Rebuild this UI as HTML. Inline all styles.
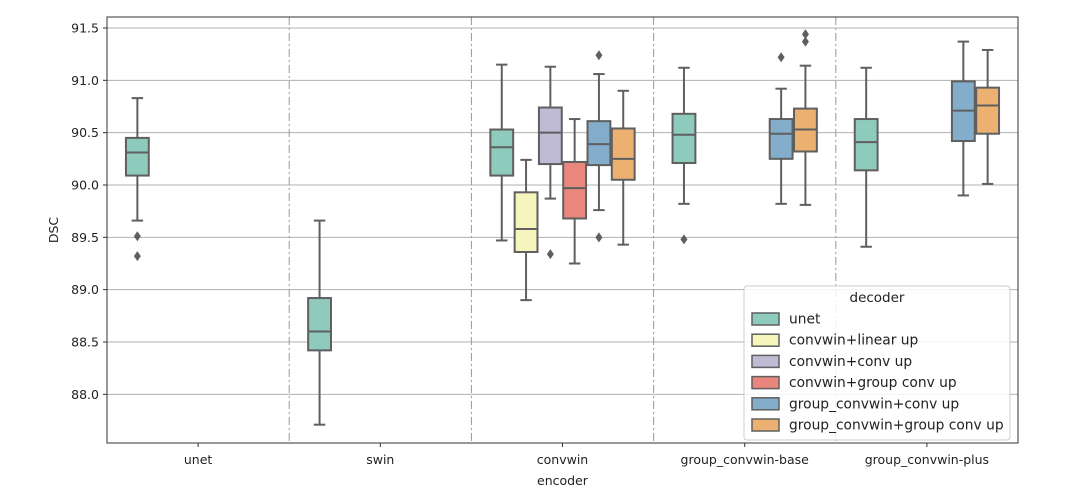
<!DOCTYPE html>
<html><head><meta charset="utf-8"><style>
body{margin:0;background:#fff;font-family:"DejaVu Sans","Liberation Sans",sans-serif}
svg text{font-family:"DejaVu Sans","Liberation Sans",sans-serif;fill:#222}
</style></head><body>
<svg id="chart" width="1080" height="495" xmlns="http://www.w3.org/2000/svg"></svg>
<script>
const encoders=["unet","swin","convwin","group_convwin-base","group_convwin-plus"];
const decoders=["unet","convwin+linear up","convwin+conv up","convwin+group conv up","group_convwin+conv up","group_convwin+group conv up"];
const colors=["#8fcbbd","#f6f5bb","#bfbbd5","#e9877e","#84adcb","#ecb170"];
const yTicks=[88.0,88.5,89.0,89.5,90.0,90.5,91.0,91.5];
// each box: [encoderIdx, decoderIdx, low, q1, median, q3, high]
const boxes=[
[0,0,89.66,90.09,90.31,90.45,90.83],
[1,0,87.71,88.42,88.60,88.92,89.66],
[2,0,89.47,90.09,90.36,90.53,91.15],
[2,1,88.90,89.36,89.58,89.93,90.24],
[2,2,89.87,90.20,90.50,90.74,91.13],
[2,3,89.25,89.68,89.97,90.22,90.63],
[2,4,89.76,90.19,90.39,90.61,91.06],
[2,5,89.43,90.05,90.25,90.54,90.90],
[3,0,89.82,90.21,90.48,90.68,91.12],
[3,4,89.82,90.25,90.49,90.63,90.92],
[3,5,89.81,90.32,90.53,90.73,91.14],
[4,0,89.41,90.14,90.41,90.63,91.12],
[4,4,89.90,90.42,90.71,90.99,91.37],
[4,5,90.01,90.49,90.76,90.93,91.29]];
// outliers: [encoderIdx, decoderIdx, value]
const outliers=[[0,0,89.51],[0,0,89.32],[2,2,89.34],[2,4,91.24],[2,4,89.50],[3,0,89.48],[3,4,91.22],[3,5,91.44],[3,5,91.37]];

const svg=document.getElementById('chart');
const NS="http://www.w3.org/2000/svg";
const L=107,R=1018,T=17,B=443,yMin=87.535,yMax=91.605;
const catW=(R-L)/encoders.length;
const y=v=>B-(v-yMin)/(yMax-yMin)*(B-T);
const xc=i=>L+catW*(i+0.5);
const hueW=catW*0.8/decoders.length;
const xh=(i,j)=>xc(i)-catW*0.4+hueW*(j+0.5);
function mk(tag,attrs,parent){const e=document.createElementNS(NS,tag);for(const k in attrs)e.setAttribute(k,attrs[k]);(parent||svg).appendChild(e);return e;}
const ED="#5f5f5f";
yTicks.forEach(t=>{
 const g=mk('line',{x1:L,x2:R,y1:y(t),y2:y(t),stroke:'#b0b0b0','stroke-width':1});
 
 
 mk('line',{x1:L-4,x2:L,y1:y(t),y2:y(t),stroke:'#333'});
 const tx=mk('text',{x:L-8,y:y(t)+4.5,'text-anchor':'end','font-size':12.5});
 tx.textContent=t.toFixed(1);
 
 
});
for(let i=1;i<encoders.length;i++){
 const d=mk('line',{x1:L+catW*i,x2:L+catW*i,y1:T,y2:B,stroke:'#999','stroke-dasharray':'8,3,2,3','stroke-width':1});
 
 
}
encoders.forEach((e,i)=>{
 mk('line',{x1:xc(i),x2:xc(i),y1:B,y2:B+4,stroke:'#333'});
 const tx=mk('text',{x:xc(i),y:B+21,'text-anchor':'middle','font-size':12.5});
 tx.textContent=e;
 
 
});
boxes.forEach(b=>{
 const [i,j,lo,q1,md,q3,hi]=b;const cx=xh(i,j);const w=hueW*0.94;
 const g=mk('g',{});
 
 
 mk('line',{x1:cx,x2:cx,y1:y(hi),y2:y(q3),stroke:ED,'stroke-width':2},g);
 mk('line',{x1:cx,x2:cx,y1:y(q1),y2:y(lo),stroke:ED,'stroke-width':2},g);
 mk('line',{x1:cx-w/4,x2:cx+w/4,y1:y(hi),y2:y(hi),stroke:ED,'stroke-width':2},g);
 mk('line',{x1:cx-w/4,x2:cx+w/4,y1:y(lo),y2:y(lo),stroke:ED,'stroke-width':2},g);
 mk('rect',{x:cx-w/2,y:y(q3),width:w,height:y(q1)-y(q3),fill:colors[j],stroke:ED,'stroke-width':2},g);
 mk('line',{x1:cx-w/2,x2:cx+w/2,y1:y(md),y2:y(md),stroke:ED,'stroke-width':2},g);
});
outliers.forEach(o=>{
 const cx=xh(o[0],o[1]),cy=y(o[2]);
 const p=mk('path',{d:`M${cx},${cy-5}L${cx+3.5},${cy}L${cx},${cy+5}L${cx-3.5},${cy}Z`,fill:ED});
 
 
});
mk('rect',{x:L,y:T,width:R-L,height:B-T,fill:'none',stroke:'#333','stroke-width':1});
const xl=mk('text',{x:(L+R)/2,y:485,'text-anchor':'middle','font-size':12.5});xl.textContent='encoder';

const yl=mk('text',{x:0,y:0,'text-anchor':'middle','font-size':12.5,transform:`translate(58,${(T+B)/2}) rotate(-90)`});yl.textContent='DSC';

const lg=mk('g',{});


mk('rect',{x:744,y:286,width:266,height:154,rx:3,fill:'#fff','fill-opacity':0.85,stroke:'#ccc'},lg);
const lt=mk('text',{x:877,y:302,'text-anchor':'middle','font-size':13.5},lg);lt.textContent='decoder';
decoders.forEach((d,k)=>{
 const yy=319+k*21.2;
 const en=mk('g',{},lg);
 
 
 mk('rect',{x:752,y:yy-6,width:27,height:12,fill:colors[k],stroke:ED,'stroke-width':1.5},en);
 const t=mk('text',{x:789,y:yy+4.5,'font-size':13.8},en);t.textContent=d;
});
</script>
</body></html>
